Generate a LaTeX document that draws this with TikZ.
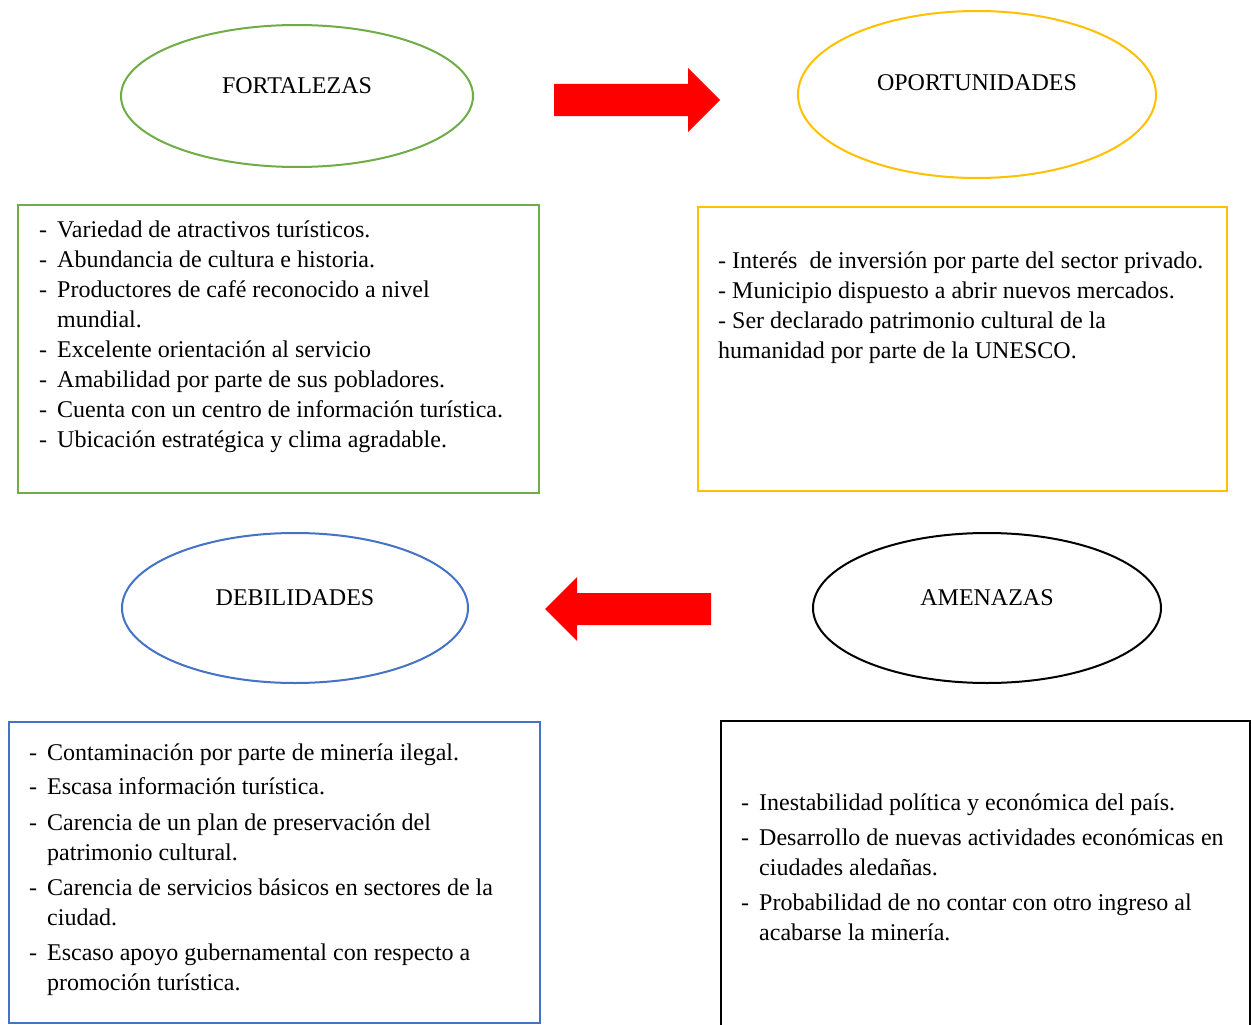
\documentclass[tikz,border=0pt]{standalone}
\usepackage{fontspec}
\setmainfont{Liberation Serif}
\usetikzlibrary{shapes.geometric}
\definecolor{fgreen}{HTML}{70AD47}
\definecolor{fgold}{HTML}{FFC000}
\definecolor{fblue}{HTML}{4472C4}
\definecolor{fred}{HTML}{FF0000}
\tikzset{
  oval/.style={draw=#1, line width=2pt, ellipse, fill=none, inner sep=0pt},
  panel/.style={draw=#1, line width=2pt, rectangle, inner sep=0pt, anchor=north west},
  txt/.style={anchor=base west, inner sep=0pt, font=\fontsize{24}{30}\selectfont},
  lbl/.style={anchor=base, inner sep=0pt, font=\fontsize{24}{30}\selectfont},
  blockarrow/.style={fill=fred, draw=none}
}
\newcommand{\dsh}{\makebox[18pt][l]{-}}
\begin{document}
\begin{tikzpicture}[x=1pt,y=-1pt]
\useasboundingbox (0,0) rectangle (1251,1025);
\clip (0,0) rectangle (1251,1025);
\fill[white] (0,0) rectangle (1251,1025);

% ellipses
\node[oval=fgreen, minimum width=352pt, minimum height=142pt] (F) at (297,96) {};
\node[oval=fgold, minimum width=358pt, minimum height=167pt] (O) at (977,94.5) {};
\node[oval=fblue, minimum width=346pt, minimum height=150pt] (D) at (295,608) {};
\node[oval=black, minimum width=348pt, minimum height=150pt] (A) at (987,608) {};

\node[lbl] (Fl) at (297,93) {FORTALEZAS};
\node[lbl] (Ol) at (977,91) {OPORTUNIDADES};
\node[lbl] (Dl) at (295,605) {DEBILIDADES};
\node[lbl] (Al) at (987,605) {AMENAZAS};

% block arrows
\fill[blockarrow] (554,84) -- (688,84) -- (688,68) -- (720,100) -- (688,132) -- (688,116) -- (554,116) -- cycle;
\fill[blockarrow] (711,593) -- (577,593) -- (577,577) -- (545,609) -- (577,641) -- (577,625) -- (711,625) -- cycle;

% panels
\node[panel=fgreen, minimum width=521pt, minimum height=288pt] (Fb) at (17,204) {};
\node[panel=fgold, minimum width=529pt, minimum height=284pt] (Ob) at (697,206) {};
\node[panel=fblue, minimum width=531pt, minimum height=301pt] (Db) at (8,721) {};
\node[panel=black, minimum width=529pt, minimum height=340pt] (Ab) at (720,720) {};

% Fortalezas text
\node[txt] (f1) at (39,237) {\dsh Variedad de atractivos turísticos.};
\node[txt] (f2) at (39,267) {\dsh Abundancia de cultura e historia.};
\node[txt] (f3) at (39,297) {\dsh Productores de café reconocido a nivel};
\node[txt] (f3b) at (57,327) {mundial.};
\node[txt] (f4) at (39,357) {\dsh Excelente orientación al servicio};
\node[txt] (f5) at (39,387) {\dsh Amabilidad por parte de sus pobladores.};
\node[txt] (f6) at (39,417) {\dsh Cuenta con un centro de información turística.};
\node[txt] (f7) at (39,447) {\dsh Ubicación estratégica y clima agradable.};

% Oportunidades text
\node[txt] (o1) at (718,268) {- Interés\ \ de inversión por parte del sector privado.};
\node[txt] (o2) at (718,298) {- Municipio dispuesto a abrir nuevos mercados.};
\node[txt] (o3) at (718,328) {- Ser declarado patrimonio cultural de la};
\node[txt] (o3b) at (718,358) {humanidad por parte de la UNESCO.};

% Debilidades text
\node[txt] (d1) at (29,760) {\dsh Contaminación por parte de minería ilegal.};
\node[txt] (d2) at (29,794) {\dsh Escasa información turística.};
\node[txt] (d3) at (29,830) {\dsh Carencia de un plan de preservación del};
\node[txt] (d3b) at (47,860) {patrimonio cultural.};
\node[txt] (d4) at (29,895) {\dsh Carencia de servicios básicos en sectores de la};
\node[txt] (d4b) at (47,925) {ciudad.};
\node[txt] (d5) at (29,960) {\dsh Escaso apoyo gubernamental con respecto a};
\node[txt] (d5b) at (47,990) {promoción turística.};

% Amenazas text
\node[txt] (a1) at (741,810) {\dsh Inestabilidad política y económica del país.};
\node[txt] (a2) at (741,845) {\dsh Desarrollo de nuevas actividades económicas en};
\node[txt] (a2b) at (759,875) {ciudades aledañas.};
\node[txt] (a3) at (741,910) {\dsh Probabilidad de no contar con otro ingreso al};
\node[txt] (a3b) at (759,940) {acabarse la minería.};
\end{tikzpicture}
\end{document}
